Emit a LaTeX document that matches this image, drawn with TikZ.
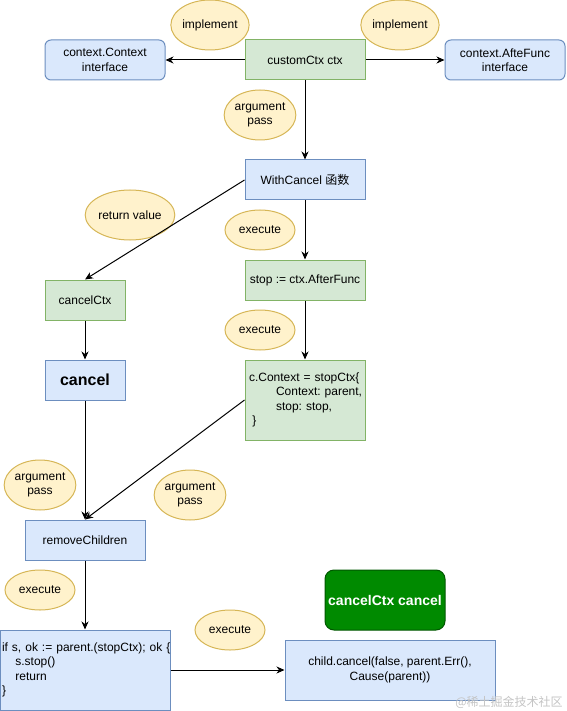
\documentclass[tikz,border=0pt]{standalone}
\usepackage{fontspec}
\setmainfont{Liberation Sans}
\newfontfamily\cjk{Noto Sans CJK SC}
\usetikzlibrary{arrows.meta,shapes.geometric}
\frenchspacing
\definecolor{bluef}{HTML}{DAE8FC}
\definecolor{bluel}{HTML}{6C8EBF}
\definecolor{greenf}{HTML}{D5E8D4}
\definecolor{greenl}{HTML}{82B366}
\definecolor{yelf}{HTML}{FFF2CC}
\definecolor{yell}{HTML}{D6B656}
\definecolor{dgf}{HTML}{008A00}
\definecolor{dgl}{HTML}{005700}
\definecolor{wmark}{HTML}{C4C4C4}
\tikzset{
  lbl/.style={font=\fontsize{12}{14.4}\selectfont, inner sep=0pt, line width=1pt, align=center},
  bluebox/.style={lbl, draw=bluel, fill=bluef},
  rbluebox/.style={bluebox, rounded corners=6pt},
  greenbox/.style={lbl, draw=greenl, fill=greenf},
  note/.style={lbl, ellipse, draw=yell, fill=yelf, minimum width=70pt},
  arr/.style={line width=1pt, -{Stealth[length=8pt,width=7pt,inset=2.5pt]}},
}
\newcommand{\codeline}[2]{\mbox{\hspace*{#1}#2}}
\begin{document}
\begin{tikzpicture}[x=1pt,y=-1pt]
\useasboundingbox (0,0) rectangle (566,711);

% top row
\node[rbluebox, minimum width=120pt, minimum height=40pt] (ctxi) at (105,60) {context.Context\\interface};
\node[greenbox, minimum width=120pt, minimum height=40pt] (cc) at (305,60) {customCtx ctx};
\node[rbluebox, minimum width=120pt, minimum height=40pt] (afi) at (505,60) {context.AfteFunc\\interface};
\node[note, minimum height=50pt] (imp1) at (210,25) {implement};
\node[note, minimum height=50pt] (imp2) at (400,25) {implement};
\node[note, minimum height=50pt] (ap1) at (260,115) {argument\\pass};

% WithCancel
\node[bluebox, minimum width=120pt, minimum height=40pt] (wc) at (305,180) {WithCancel {\cjk 函数}};
\node[note, minimum height=50pt] (rv) at (130,215) {return value};
\node[note, minimum height=40pt] (ex1) at (260,230) {execute};

\node[greenbox, minimum width=120pt, minimum height=40pt] (stop) at (305,280) {stop := ctx.AfterFunc};
\node[greenbox, minimum width=80pt, minimum height=40pt] (cctx) at (85,300) {cancelCtx};
\node[note, minimum height=40pt] (ex2) at (260,330) {execute};

\node[bluebox, minimum width=80pt, minimum height=40pt, font=\bfseries\fontsize{16}{19}\selectfont] (cancel) at (85,380) {cancel};
\node[greenbox, text width=120pt, minimum height=80pt, align=left] (cctxs) at (305,400)
  {\codeline{4pt}{c.Context = stopCtx\{}\\\codeline{31pt}{Context: parent,}\\\codeline{31pt}{stop: stop,}\\\codeline{7.4pt}{\}}};

\node[note, minimum height=50pt] (ap2) at (40,485) {argument\\pass};
\node[note, minimum height=50pt] (ap3) at (190,495) {argument\\pass};

\node[bluebox, minimum width=120pt, minimum height=40pt] (rc) at (85,540) {removeChildren};
\node[note, minimum height=40pt] (ex3) at (40,590) {execute};

\node[bluebox, text width=170pt, minimum height=80pt, align=left] (ifs) at (85,670)
  {\codeline{2pt}{if s, ok := parent.(stopCtx); ok \{}\\\codeline{15.4pt}{s.stop()}\\\codeline{15.4pt}{return}\\\codeline{2pt}{\}}};
\node[note, minimum height=40pt] (ex4) at (230,630) {execute};

\node[lbl, draw=dgl, fill=dgf, rounded corners=9pt, minimum width=120pt, minimum height=60pt,
  text=white, font=\bfseries\fontsize{14}{16}\selectfont] (ccc) at (385,600) {cancelCtx cancel};
\node[bluebox, minimum width=210pt, minimum height=60pt] (child) at (390,670)
  {child.cancel(false, parent.Err(),\\Cause(parent))};

\node[lbl, text=wmark, font=\cjk\fontsize{12}{14}\selectfont] (wm) at (509,702) {@稀土掘金技术社区};

% connectors
\draw[arr] (cc.west) -- (ctxi.east);
\draw[arr] (cc.east) -- (afi.west);
\draw[arr] (cc.south) -- (wc.north);
\draw[arr] (wc.west) -- (cctx.north);
\draw[arr] (wc.south) -- (stop.north);
\draw[arr] (stop.south) -- (cctxs.north);
\draw[arr] (cctx.south) -- (cancel.north);
\draw[arr] (cancel.south) -- (rc.north);
\draw[arr] (cctxs.west) -- (rc.north);
\draw[arr] (rc.south) -- (ifs.north);
\draw[arr] (ifs.east) -- (child.west);
\end{tikzpicture}
\end{document}
